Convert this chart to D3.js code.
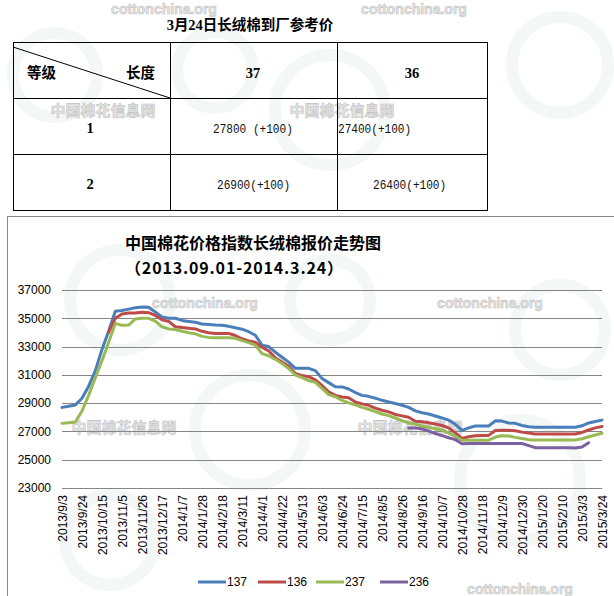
<!DOCTYPE html>
<html><head><meta charset="utf-8">
<script src="https://cdn.jsdelivr.net/npm/d3@7"></script>
<style>body{margin:0;background:#fff;overflow:hidden}</style>
</head><body>
<svg id="c" width="614" height="596"></svg>
<script>
// ---------- data ----------
const tableTitle = "3月24日长绒棉到厂参考价";
const headerLeft = "等级";
const headerRight = "长度";
const lengths = ["37", "36"];
const grades = ["1", "2"];
const prices37 = ["27800 (+100)", "26900(+100)"];
const prices36 = ["27400(+100)", "26400(+100)"];

const chartTitle = ["中国棉花价格指数长绒棉报价走势图", "（2013.09.01-2014.3.24）"];
const seriesNames = ["137", "136", "237", "236"];
const seriesColors = ["#4A7EBB", "#BE4B48", "#98B954", "#7D60A0"];
const yTicks = [23000, 25000, 27000, 29000, 31000, 33000, 35000, 37000];
const xTickLabels = ["2013/9/3","2013/9/24","2013/10/15","2013/11/5","2013/11/26","2013/12/17",
  "2014/1/7","2014/1/28","2014/2/18","2014/3/11","2014/4/1","2014/4/22","2014/5/13","2014/6/3",
  "2014/6/24","2014/7/15","2014/8/5","2014/8/26","2014/9/16","2014/10/7","2014/10/28","2014/11/18",
  "2014/12/9","2014/12/30","2015/1/20","2015/2/10","2015/3/3","2015/3/24"];
// weekly categories (every Tuesday 2013/9/3 .. 2015/3/24)
const fmt = d3.utcFormat("%Y/%-m/%-d");
const categories = d3.range(82).map(i => fmt(d3.utcDay.offset(new Date(Date.UTC(2013, 8, 3)), 7 * i)));

const s137 = [28700,28780,28870,29350,30200,31300,32800,34100,35500,35550,
  35650,35750,35800,35780,35450,35100,35000,35000,34850,34780,
  34720,34600,34560,34520,34500,34430,34330,34230,34050,33800,
  33100,33000,32600,32250,31900,31460,31460,31460,31300,30750,
  30450,30160,30150,30000,29750,29550,29480,29350,29200,29080,
  28970,28850,28700,28450,28320,28230,28090,27950,27800,27500,
  27080,27250,27380,27380,27380,27750,27730,27600,27570,27420,
  27330,27300,27300,27300,27300,27300,27300,27300,27400,27600,
  27700,27800];
const s136 = [null,null,null,null,null,null,null,34000,35000,35300,
  35380,35380,35420,35400,35200,34900,34780,34400,34350,34300,
  34250,34080,33980,33930,33930,33930,33780,33550,33400,33300,
  32950,32700,32200,31900,31600,31100,30950,30870,30650,30250,
  29800,29550,29440,29380,29080,28950,28850,28650,28500,28380,
  28200,28100,28000,27720,27680,27620,27520,27420,27250,26900,
  26500,26620,26700,26720,26720,27060,27080,27080,27050,26950,
  26880,26820,26820,26820,26820,26820,26820,26820,26930,27100,
  27250,27350];
const s237 = [27570,27620,27670,28450,29560,30800,32000,33300,34640,34500,
  34520,34950,35000,35000,34800,34400,34250,34200,34080,33980,
  33900,33720,33650,33620,33620,33620,33580,33420,33280,33100,
  32500,32350,32100,31800,31450,30990,30800,30600,30470,30050,
  29600,29450,29200,29020,28880,28700,28570,28400,28230,28120,
  27950,27760,27600,27520,27380,27300,27200,27100,26900,26650,
  26380,26380,26380,26380,26380,26600,26700,26680,26580,26500,
  26420,26400,26400,26400,26400,26400,26400,26400,26480,26620,
  26750,26870];
const s236 = [null,null,null,null,null,null,null,null,null,null,
  null,null,null,null,null,null,null,null,null,null,
  null,null,null,null,null,null,null,null,null,null,
  null,null,null,null,null,null,null,null,null,null,
  null,null,null,null,null,null,null,null,null,null,
  null,null,27250,27240,27180,27020,26850,26700,26550,26420,
  26130,26150,26150,26150,26150,26150,26150,26150,26150,26150,
  26000,25850,25850,25850,25850,25850,25850,25830,25900,26200,
  null,null];
const seriesValues = [s137, s136, s237, s236];

// ---------- drawing ----------
const svg = d3.select("#c");
svg.append("rect").attr("width", 614).attr("height", 596).attr("fill", "#fff");

// faint background swirls (watermark decoration)
const sw = svg.append("g").attr("fill", "none").attr("stroke", "#f3f8f6").attr("stroke-width", 12);
[[55, 75, 42], [215, 70, 38], [330, 110, 55], [560, 65, 48], [120, 300, 50], [330, 300, 40],
 [560, 330, 45], [250, 430, 55], [520, 480, 60], [110, 540, 45]]
  .forEach(([cx, cy, r]) => sw.append("circle").attr("cx", cx).attr("cy", cy).attr("r", r));

// faint text watermarks
const wm = svg.append("g").attr("font-weight", "bold").attr("fill", "#e4e4e4")
  .attr("stroke", "#c4c4c4").attr("stroke-width", 0.6);
[[164, 14, "cottonchina.org"], [414, 14, "cottonchina.org"], [205, 308, "cottonchina.org"],
 [490, 308, "cottonchina.org"], [520, 594, "cottonchina.org"]].forEach(([x, y, t]) =>
  wm.append("text").attr("x", x).attr("y", y).attr("text-anchor", "middle")
    .attr("font-family", "Liberation Sans, Arial, sans-serif").attr("font-size", 14).text(t));
[[103, 116, "中国棉花信息网"], [342, 116, "中国棉花信息网"], [124, 433, "中国棉花信息网"], [410, 433, "中国棉花信息网"]]
  .forEach(([x, y, t]) => wm.append("text").attr("x", x).attr("y", y).attr("text-anchor", "middle")
    .attr("font-family", "Noto Sans CJK SC").attr("font-size", 15).text(t));

// ----- table -----
const tX = [13, 170, 337, 487], tY = [42, 98, 154, 210];
const tbl = svg.append("g").attr("stroke", "#000").attr("stroke-width", 1).attr("shape-rendering", "crispEdges");
tX.forEach(x => tbl.append("line").attr("x1", x + 0.5).attr("x2", x + 0.5).attr("y1", tY[0]).attr("y2", tY[3] + 1));
tY.forEach(y => tbl.append("line").attr("y1", y + 0.5).attr("y2", y + 0.5).attr("x1", tX[0]).attr("x2", tX[3] + 1));
svg.append("line").attr("x1", tX[0]).attr("y1", tY[0] + 5).attr("x2", tX[1]).attr("y2", tY[1])
  .attr("stroke", "#000").attr("stroke-width", 1);

svg.append("text").attr("x", 250).attr("y", 30).attr("text-anchor", "middle")
  .attr("font-family", "Liberation Serif, Noto Sans CJK SC").attr("font-weight", "bold")
  .attr("font-size", 14.5).text(tableTitle);

const bold = (x, y, t, anchor) => svg.append("text").attr("x", x).attr("y", y)
  .attr("text-anchor", anchor || "middle").attr("font-family", "Liberation Serif, Noto Sans CJK SC")
  .attr("font-weight", "bold").attr("font-size", 14.5).text(t);
bold(27, 78, headerLeft, "start");
bold(155, 78, headerRight, "end");
lengths.forEach((l, i) => bold([253, 412][i], 78, l));
grades.forEach((g, i) => bold(90, [133, 189][i], g));

const mono = (x, y, t) => svg.append("text").attr("x", x).attr("y", y).attr("text-anchor", "start")
  .attr("font-family", "Liberation Mono, DejaVu Sans Mono, monospace").attr("font-size", 12.5)
  .attr("textLength", t.length * 6.65).attr("lengthAdjust", "spacingAndGlyphs").attr("fill", "#111").text(t);
prices37.forEach((p, i) => mono([213, 217][i], [133, 189][i], p));
prices36.forEach((p, i) => mono([338, 373][i], [133, 189][i], p));

// ----- chart -----
svg.append("rect").attr("x", 7.5).attr("y", 216.5).attr("width", 640).attr("height", 420)
  .attr("fill", "none").attr("stroke", "#878787").attr("stroke-width", 1);

svg.append("text").attr("x", 253).attr("y", 249).attr("text-anchor", "middle")
  .attr("font-family", "Noto Sans CJK SC").attr("font-weight", "bold").attr("font-size", 16).text(chartTitle[0]);
svg.append("text").attr("x", 234).attr("y", 274).attr("text-anchor", "middle")
  .attr("font-family", "Noto Sans CJK SC").attr("font-weight", "bold").attr("font-size", 16)
  .attr("textLength", 218).attr("lengthAdjust", "spacing").text(chartTitle[1]);

const x = d3.scalePoint().domain(categories).range([62, 602]);
const y = d3.scaleLinear().domain([23000, 37000]).range([488, 290]);

// gridlines + y labels
const yAxis = d3.axisLeft(y).tickValues(yTicks).tickSize(-(602 - 62)).tickPadding(11).tickFormat(d3.format("d"));
const gy = svg.append("g").attr("transform", "translate(62,0)").call(yAxis);
gy.select(".domain").remove();
gy.selectAll(".tick line").attr("stroke", "#868686").attr("shape-rendering", "crispEdges");
gy.selectAll(".tick text").attr("font-family", "Liberation Sans, Arial, sans-serif").attr("font-size", 12).attr("fill", "#000");

// x labels
const xAxis = d3.axisBottom(x).tickValues(xTickLabels).tickSize(0);
const gx = svg.append("g").attr("transform", "translate(0,488)").call(xAxis);
gx.select(".domain").remove();
gx.selectAll(".tick text")
  .attr("font-family", "Liberation Sans, Arial, sans-serif").attr("font-size", 12).attr("fill", "#000")
  .attr("text-anchor", "end").attr("transform", "translate(0,7) rotate(-90)")
  .attr("x", 0).attr("y", 0).attr("dy", "0.36em");

// lines
const line = d3.line().defined(d => d[1] != null).x(d => x(d[0])).y(d => y(d[1]));
seriesValues.forEach((vals, k) => {
  svg.append("path").datum(categories.map((c, i) => [c, vals[i]]))
    .attr("fill", "none").attr("stroke", seriesColors[k]).attr("stroke-width", 3)
    .attr("stroke-linejoin", "round").attr("stroke-linecap", "round").attr("d", line);
});

// legend
const lg = svg.append("g").attr("transform", "translate(198,582)");
seriesNames.forEach((n, k) => {
  const g = lg.append("g").attr("transform", `translate(${[0, 60, 118, 182][k]},0)`);
  g.append("line").attr("x1", 0).attr("x2", 28).attr("stroke", seriesColors[k]).attr("stroke-width", 3);
  g.append("text").attr("x", 29).attr("y", 0).attr("dy", "0.36em")
    .attr("font-family", "Liberation Sans, Arial, sans-serif").attr("font-size", 12).text(n);
});
</script>
</body></html>
